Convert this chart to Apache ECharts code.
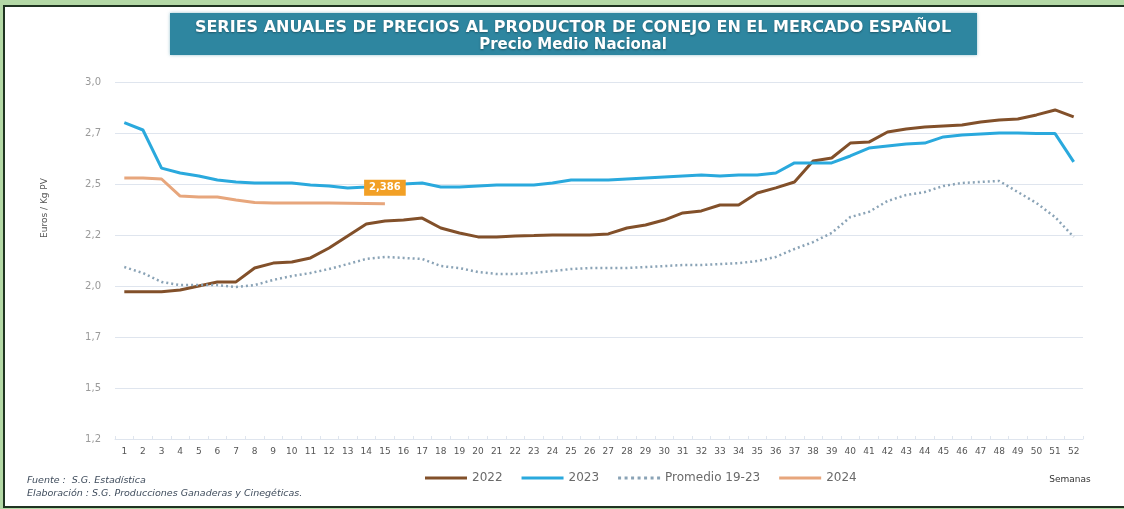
<!DOCTYPE html>
<html>
<head>
<meta charset="utf-8">
<title>Precio conejo</title>
<script src="https://cdn.jsdelivr.net/npm/echarts@6.0.0/dist/echarts.min.js"></script>
<style>
  html, body {
    margin: 0;
    padding: 0;
    width: 1124px;
    height: 509px;
    overflow: hidden;
    background: #b4d9a6;
  }
  .frame {
    position: absolute;
    left: 3px;
    top: 5px;
    width: 1200px;
    height: 499px;
    border: 2px solid #1f3321;
    background: #fff;
  }
  #chart {
    position: absolute;
    left: 0;
    top: 0;
    width: 1124px;
    height: 509px;
  }
</style>
</head>
<body>
<div class="frame"></div>
<div id="chart"></div>
<script>
// semanas
const weeks = ['1', '2', '3', '4', '5', '6', '7', '8', '9', '10', '11', '12', '13',
  '14', '15', '16', '17', '18', '19', '20', '21', '22', '23', '24', '25', '26',
  '27', '28', '29', '30', '31', '32', '33', '34', '35', '36', '37', '38', '39',
  '40', '41', '42', '43', '44', '45', '46', '47', '48', '49', '50', '51', '52']

// euros / kg PV
const y2022 = [1.943, 1.943, 1.943, 1.951, 1.971, 1.992, 1.992, 2.062, 2.087, 2.092,
  2.113, 2.163, 2.224, 2.284, 2.299, 2.304, 2.314, 2.264, 2.239, 2.219,
  2.219, 2.224, 2.226, 2.229, 2.229, 2.229, 2.234, 2.264, 2.279, 2.304,
  2.340, 2.350, 2.380, 2.380, 2.440, 2.466, 2.496, 2.602, 2.617, 2.692,
  2.697, 2.748, 2.763, 2.773, 2.778, 2.783, 2.798, 2.808, 2.813, 2.834,
  2.859, 2.824]

const y2023 = [2.795, 2.758, 2.566, 2.541, 2.526, 2.506, 2.496, 2.491, 2.491, 2.491,
  2.481, 2.476, 2.466, 2.471, 2.481, 2.486, 2.491, 2.471, 2.471, 2.476,
  2.481, 2.481, 2.481, 2.491, 2.506, 2.506, 2.506, 2.511, 2.516, 2.521,
  2.526, 2.531, 2.526, 2.531, 2.531, 2.541, 2.592, 2.592, 2.592, 2.627,
  2.667, 2.677, 2.687, 2.692, 2.723, 2.733, 2.738, 2.743, 2.743, 2.740,
  2.740, 2.597]

const promedio = [2.067, 2.037, 1.992, 1.976, 1.976, 1.976, 1.966, 1.976, 2.002, 2.022,
  2.037, 2.057, 2.082, 2.108, 2.118, 2.113, 2.108, 2.072, 2.062, 2.042,
  2.032, 2.032, 2.037, 2.047, 2.057, 2.062, 2.062, 2.062, 2.067, 2.072,
  2.077, 2.077, 2.082, 2.087, 2.097, 2.118, 2.158, 2.193, 2.239, 2.319,
  2.345, 2.400, 2.430, 2.445, 2.476, 2.491, 2.496, 2.501, 2.445, 2.390,
  2.319, 2.219]

const y2024 = [2.516, 2.516, 2.511, 2.425, 2.420, 2.420, 2.405, 2.392, 2.390, 2.390,
  2.390, 2.390, 2.389, 2.388, 2.386]

const yMin = 1.2
const yMax = 3.0

const lastIdx = y2024.length - 1

// iconos de la leyenda (linea continua / punteada)
const solidIcon = 'path://M0,0H42V3H0Z'
const dotIcon = 'path://M0,0h3v3h-3z M6.5,0h3v3h-3z M13,0h3v3h-3z M19.5,0h3v3h-3z M26,0h3v3h-3z M32.5,0h3v3h-3z M39,0h3v3h-3z'

const myChart = echarts.init(document.getElementById('chart'))

const fmt = v => v.toFixed(1).replace('.', ',')

myChart.setOption({
  animation: false,
  grid: {
    left: 115,
    top: 82,
    width: 968,
    height: 357
  },
  legend: {
    left: 420,
    top: 467,
    itemWidth: 42,
    itemHeight: 3,
    itemGap: 19,
    textStyle: {
      fontFamily: 'DejaVu Sans',
      fontSize: 12,
      color: '#6a6a6a'
    },
    data: [
      { name: '2022', icon: solidIcon },
      { name: '2023', icon: solidIcon },
      { name: 'Promedio 19-23', icon: dotIcon },
      { name: '2024', icon: solidIcon }
    ]
  },
  xAxis: {
    type: 'category',
    data: weeks,
    boundaryGap: true,
    axisLine: { lineStyle: { color: '#dfe5ee', width: 1 } },
    axisTick: { show: true, inside: true, length: 3, lineStyle: { color: '#dfe5ee' } },
    axisLabel: {
      interval: 0,
      margin: 8,
      fontFamily: 'DejaVu Sans',
      fontSize: 9,
      color: '#555'
    }
  },
  yAxis: {
    type: 'value',
    min: yMin,
    max: yMax,
    interval: (yMax - yMin) / 7,
    axisLine: { show: false },
    axisTick: { show: false },
    splitLine: { lineStyle: { color: '#dfe5ee', width: 1 } },
    axisLabel: {
      margin: 14,
      fontFamily: 'DejaVu Sans',
      fontSize: 10,
      color: '#9a9a9a',
      formatter: fmt
    }
  },
  series: [
    {
      name: '2022',
      type: 'line',
      data: y2022,
      symbol: 'none',
      lineStyle: { color: '#82502a', width: 3 },
      itemStyle: { color: '#82502a' }
    },
    {
      name: '2023',
      type: 'line',
      data: y2023,
      symbol: 'none',
      lineStyle: { color: '#2aa9dd', width: 3 },
      itemStyle: { color: '#2aa9dd' }
    },
    {
      name: 'Promedio 19-23',
      type: 'line',
      data: promedio,
      symbol: 'none',
      lineStyle: { color: '#8aa3b6', width: 2.5, type: [2, 3] },
      itemStyle: { color: '#8aa3b6' }
    },
    {
      name: '2024',
      type: 'line',
      data: y2024,
      symbol: 'none',
      z: 5,
      lineStyle: { color: '#e7a67c', width: 3 },
      itemStyle: { color: '#e7a67c' },
      // etiqueta del ultimo valor
      markPoint: {
        symbol: 'circle',
        symbolSize: 0,
        data: [{ coord: [weeks[lastIdx], y2024[lastIdx]], value: y2024[lastIdx] }],
        label: {
          show: true,
          position: 'top',
          distance: 8,
          formatter: p => p.value.toFixed(3).replace('.', ','),
          backgroundColor: '#f2a026',
          color: '#fff',
          fontWeight: 'bold',
          fontFamily: 'DejaVu Sans',
          fontSize: 10,
          padding: [3, 5]
        }
      }
    }
  ],
  graphic: [
    {
      type: 'rect',
      shape: { x: 170, y: 13, width: 807, height: 42 },
      style: { fill: '#2e86a0', shadowBlur: 3, shadowColor: 'rgba(46,134,160,0.5)' }
    },
    {
      type: 'text',
      x: 573,
      y: 28,
      style: {
        text: 'SERIES ANUALES DE PRECIOS AL PRODUCTOR DE CONEJO EN EL MERCADO ESPAÑOL',
        fill: '#fff',
        font: 'bold 16px "DejaVu Sans"',
        align: 'center',
        verticalAlign: 'middle',
        textShadowColor: 'rgba(0,0,0,0.35)',
        textShadowBlur: 2,
        textShadowOffsetY: 1
      }
    },
    {
      type: 'text',
      x: 573,
      y: 45,
      style: {
        text: 'Precio Medio Nacional',
        fill: '#fff',
        font: 'bold 15px "DejaVu Sans"',
        align: 'center',
        verticalAlign: 'middle',
        textShadowColor: 'rgba(0,0,0,0.35)',
        textShadowBlur: 2,
        textShadowOffsetY: 1
      }
    },
    {
      // nombre del eje y
      type: 'text',
      x: 45,
      y: 208,
      rotation: Math.PI / 2,
      style: {
        text: 'Euros / Kg PV',
        fill: '#555',
        font: '9px "DejaVu Sans"',
        align: 'center',
        verticalAlign: 'middle'
      }
    },
    {
      type: 'text',
      x: 1070,
      y: 480,
      style: {
        text: 'Semanas',
        fill: '#333',
        font: '9px "DejaVu Sans"',
        align: 'center',
        verticalAlign: 'middle'
      }
    },
    {
      type: 'text',
      x: 27,
      y: 481,
      style: {
        text: 'Fuente :  S.G. Estadística',
        fill: '#3f4c5c',
        font: 'italic 9.5px "DejaVu Sans"',
        verticalAlign: 'middle'
      }
    },
    {
      type: 'text',
      x: 27,
      y: 494,
      style: {
        text: 'Elaboración : S.G. Producciones Ganaderas y Cinegéticas.',
        fill: '#3f4c5c',
        font: 'italic 9.5px "DejaVu Sans"',
        verticalAlign: 'middle'
      }
    }
  ]
})
</script>
</body>
</html>
